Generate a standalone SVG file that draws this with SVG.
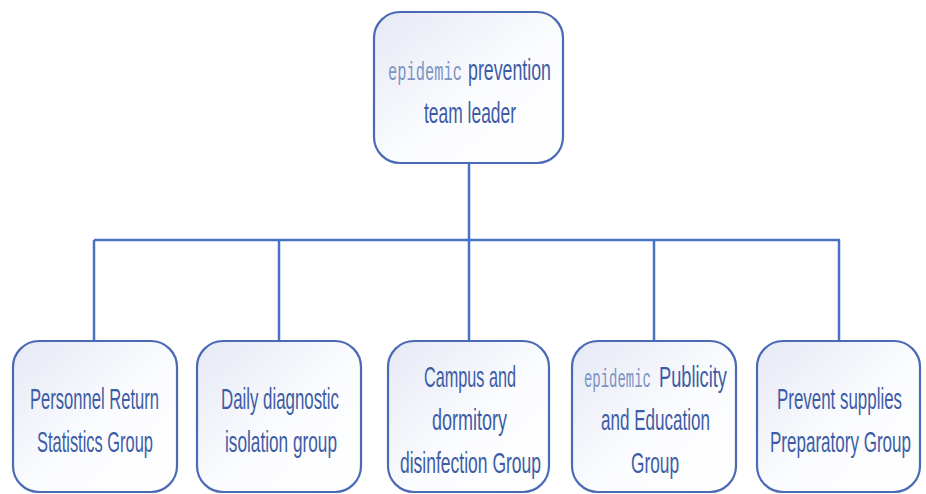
<svg xmlns="http://www.w3.org/2000/svg" width="926" height="494" viewBox="0 0 926 494">
<defs>
<linearGradient id="g" x1="0" y1="0" x2="1" y2="1">
<stop offset="0" stop-color="#E6E9F5"/>
<stop offset="0.55" stop-color="#FBFCFE"/>
<stop offset="1" stop-color="#FFFFFF"/>
</linearGradient>
<style>
.box{fill:url(#g);stroke:#4A6AB5;stroke-width:2.2}
.t{font-family:"Liberation Sans",Arial,sans-serif;font-size:30px;fill:#3D5CA6}
.e{font-family:"Liberation Mono","Courier New",monospace;font-size:26px;fill:#7B93C4}
.c{stroke:#4472C4;stroke-width:2.5;fill:none}
</style>
</defs>
<rect width="926" height="494" fill="#FFFFFF"/>
<g id="connectors">
<line class="c" x1="469" y1="163" x2="469" y2="240"/>
<line class="c" x1="94" y1="240" x2="840" y2="240"/>
<line class="c" x1="94" y1="240" x2="94" y2="341"/>
<line class="c" x1="279" y1="240" x2="279" y2="341"/>
<line class="c" x1="469" y1="240" x2="469" y2="341"/>
<line class="c" x1="654" y1="240" x2="654" y2="341"/>
<line class="c" x1="839" y1="240" x2="839" y2="341"/>
</g>
<g id="leader">
<rect class="box" x="374" y="12" width="189" height="151" rx="26"/>
<text class="e" transform="translate(388,80) scale(0.55,1)" textLength="134.5" lengthAdjust="spacingAndGlyphs">epidemic</text>
<text class="t" transform="translate(468,80) scale(0.55,1)" textLength="150.9" lengthAdjust="spacingAndGlyphs">prevention</text>
<text class="t" transform="translate(424,123) scale(0.55,1)" textLength="167.3" lengthAdjust="spacingAndGlyphs">team leader</text>
</g>
<g id="n1">
<rect class="box" x="13" y="341" width="164" height="151" rx="26"/>
<text class="t" transform="translate(30,409) scale(0.55,1)" textLength="234.5" lengthAdjust="spacingAndGlyphs">Personnel Return</text>
<text class="t" transform="translate(37,452) scale(0.55,1)" textLength="210.9" lengthAdjust="spacingAndGlyphs">Statistics Group</text>
</g>
<g id="n2">
<rect class="box" x="197" y="341" width="164" height="151" rx="26"/>
<text class="t" transform="translate(221,409) scale(0.55,1)" textLength="214.5" lengthAdjust="spacingAndGlyphs">Daily diagnostic</text>
<text class="t" transform="translate(225,452) scale(0.55,1)" textLength="203.6" lengthAdjust="spacingAndGlyphs">isolation group</text>
</g>
<g id="n3">
<rect class="box" x="388" y="341" width="161" height="151" rx="26"/>
<text class="t" transform="translate(424,387) scale(0.55,1)" textLength="167.3" lengthAdjust="spacingAndGlyphs">Campus and</text>
<text class="t" transform="translate(432,430) scale(0.55,1)" textLength="136.4" lengthAdjust="spacingAndGlyphs">dormitory</text>
<text class="t" transform="translate(400,473) scale(0.55,1)" textLength="256.4" lengthAdjust="spacingAndGlyphs">disinfection Group</text>
</g>
<g id="n4">
<rect class="box" x="572" y="341" width="164" height="151" rx="26"/>
<text class="e" transform="translate(584,387) scale(0.55,1)" textLength="121.8" lengthAdjust="spacingAndGlyphs">epidemic</text>
<text class="t" transform="translate(659,387) scale(0.55,1)" textLength="123.6" lengthAdjust="spacingAndGlyphs">Publicity</text>
<text class="t" transform="translate(601,430) scale(0.55,1)" textLength="198.2" lengthAdjust="spacingAndGlyphs">and Education</text>
<text class="t" transform="translate(631,473) scale(0.55,1)" textLength="87.3" lengthAdjust="spacingAndGlyphs">Group</text>
</g>
<g id="n5">
<rect class="box" x="757" y="341" width="163" height="151" rx="26"/>
<text class="t" transform="translate(777,409) scale(0.55,1)" textLength="227.3" lengthAdjust="spacingAndGlyphs">Prevent supplies</text>
<text class="t" transform="translate(770,452) scale(0.55,1)" textLength="256.4" lengthAdjust="spacingAndGlyphs">Preparatory Group</text>
</g>
</svg>
